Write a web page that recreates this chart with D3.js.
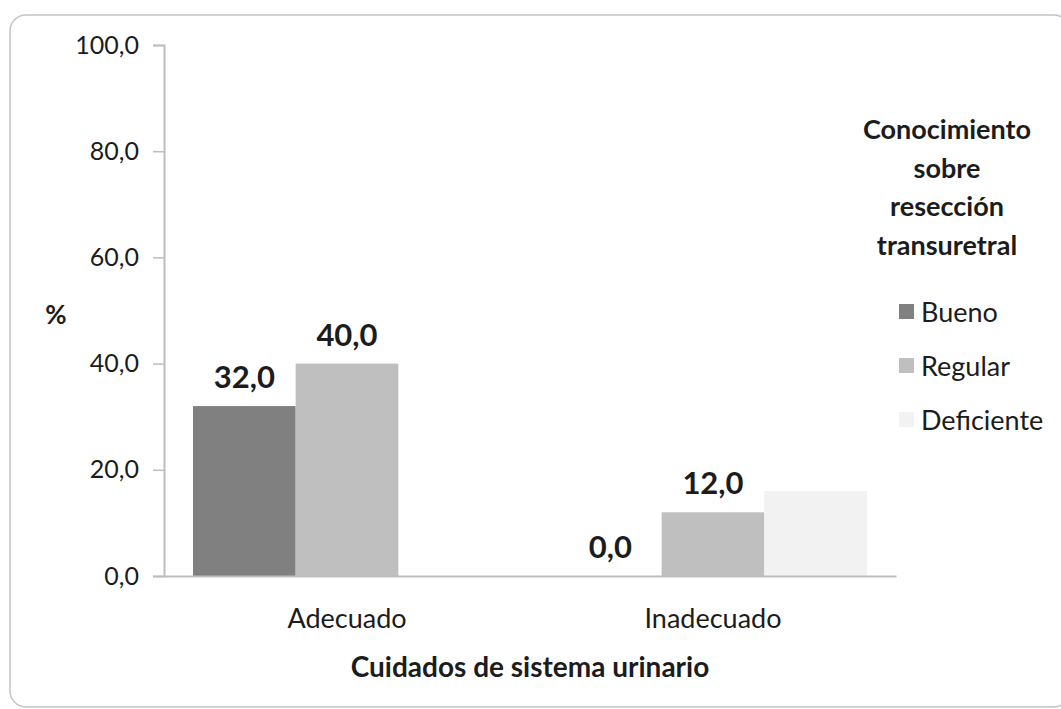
<!DOCTYPE html>
<html>
<head>
<meta charset="utf-8">
<script src="https://cdn.jsdelivr.net/npm/d3@7"></script>
<style>
  html, body { margin: 0; padding: 0; background: #fff; }
  svg { display: block; }
  text { font-family: Lato, "Open Sans", sans-serif; fill: #1c1c1c; }
</style>
</head>
<body>
<svg id="chart" width="1061" height="709"></svg>
<script>
// Categories on the x axis
const categories = ["Adecuado", "Inadecuado"];
// Series (knowledge level) and their values in %
const seriesNames = ["Bueno", "Regular", "Deficiente"];
const bueno = [32.0, 0.0];
const regular = [40.0, 12.0];
const deficiente = [0.0, 16.0];
const seriesColors = ["#808080", "#bfbfbf", "#f2f2f2"];
// Which series carry a value label
const labelled = [true, true, false];
const yTicks = [0, 20, 40, 60, 80, 100];
const legendTitle = ["Conocimiento", "sobre", "resección", "transuretral"];
const xTitle = "Cuidados de sistema urinario";
const yTitle = "%";

const seriesValues = [bueno, regular, deficiente];
const fmt = v => d3.format(".1f")(v).replace(".", ",");

const svg = d3.select("#chart");

// Rounded chart frame
svg.append("rect")
  .attr("x", 10).attr("y", 15)
  .attr("width", 1060).attr("height", 692)
  .attr("rx", 16).attr("ry", 16)
  .attr("fill", "#fff")
  .attr("stroke", "#c4c4c4")
  .attr("stroke-width", 1.5);

const plot = { left: 164, right: 896, top: 45, bottom: 576 };

const x0 = d3.scaleBand().domain(categories)
  .range([plot.left, plot.right]).paddingInner(0).paddingOuter(0);
const groupWidth = 308;
const x1 = d3.scaleBand().domain(seriesNames)
  .range([0, groupWidth]).padding(0);
const y = d3.scaleLinear().domain([0, 100]).range([plot.bottom, plot.top]);

// Bars
const g = svg.append("g");
categories.forEach((cat, ci) => {
  const gx = x0(cat) + (x0.bandwidth() - groupWidth) / 2;
  seriesNames.forEach((s, si) => {
    const v = seriesValues[si][ci];
    g.append("rect")
      .attr("x", gx + x1(s))
      .attr("y", y(v))
      .attr("width", x1.bandwidth())
      .attr("height", y(0) - y(v))
      .attr("fill", seriesColors[si]);
    if (labelled[si]) {
      g.append("text")
        .attr("x", gx + x1(s) + x1.bandwidth() / 2)
        .attr("y", y(v) - 18)
        .attr("text-anchor", "middle")
        .attr("font-size", 31)
        .attr("font-weight", "bold")
        .text(fmt(v));
    }
  });
});

// Y axis
const yAxis = d3.axisLeft(y).tickValues(yTicks).tickFormat(fmt)
  .tickSize(11).tickPadding(14);
const ya = svg.append("g").attr("transform", `translate(${plot.left},0)`).call(yAxis);
ya.select(".domain").attr("stroke", "#bdbdbd").attr("stroke-width", 2);
ya.selectAll(".tick line").attr("stroke", "#bdbdbd").attr("stroke-width", 1.5);
ya.selectAll(".tick text").attr("font-size", 25).attr("fill", "#222")
  .style("font-family", "Lato, 'Open Sans', sans-serif");

// X axis baseline
const xAxis = d3.axisBottom(x0).tickSize(0).tickPadding(33);
const xa = svg.append("g").attr("transform", `translate(0,${plot.bottom})`).call(xAxis);
xa.select(".domain").attr("stroke", "#bdbdbd").attr("stroke-width", 2);
xa.selectAll(".tick text").attr("font-size", 27).attr("fill", "#222")
  .style("font-family", "Lato, 'Open Sans', sans-serif");

// Axis titles
svg.append("text")
  .attr("x", 530).attr("y", 677)
  .attr("text-anchor", "middle")
  .attr("font-size", 28).attr("font-weight", "bold")
  .text(xTitle);
svg.append("text")
  .attr("x", 56).attr("y", 324)
  .attr("text-anchor", "middle")
  .attr("font-size", 26).attr("font-weight", "bold")
  .text(yTitle);

// Legend
const lg = svg.append("g");
legendTitle.forEach((line, i) => {
  lg.append("text")
    .attr("x", 947).attr("y", 139 + i * 38.5)
    .attr("text-anchor", "middle")
    .attr("font-size", 27).attr("font-weight", "bold")
    .text(line);
});
seriesNames.forEach((s, i) => {
  const cy = 312 + i * 54;
  lg.append("rect")
    .attr("x", 899).attr("y", cy - 8)
    .attr("width", 15).attr("height", 15)
    .attr("fill", seriesColors[i]);
  lg.append("text")
    .attr("x", 921).attr("y", cy + 10)
    .attr("font-size", 27)
    .text(s);
});
</script>
</body>
</html>
